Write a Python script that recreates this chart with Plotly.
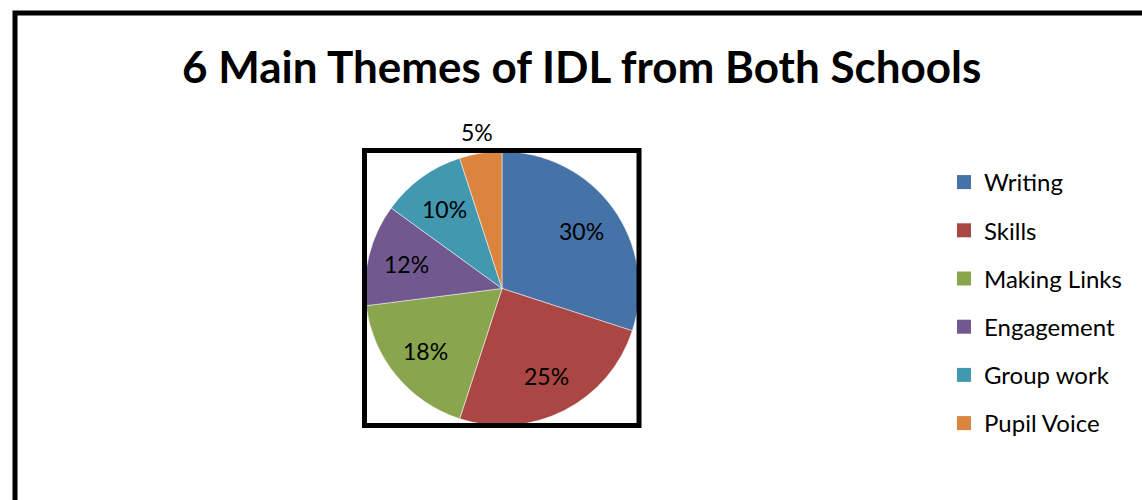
import math
import plotly.graph_objects as go

categories = ["Writing", "Skills", "Making Links", "Engagement", "Group work", "Pupil Voice"]
values = [30, 25, 18, 12, 10, 5]
colors = ["#4572A7", "#AA4643", "#89A54E", "#71588F", "#4198AF", "#DB843D"]
title_text = "6 Main Themes of IDL from Both Schools"

W, H = 1142, 500
FONT = "Lato"

# pie placement (pixels)
PX0, PX1, PY0, PY1 = 365, 639, 151, 426
CX, CY = (PX0 + PX1) / 2, (PY0 + PY1) / 2
R = (PX1 - PX0) / 2

fig = go.Figure()
fig.add_trace(go.Pie(
    labels=categories, values=values, sort=False, direction="clockwise", rotation=0,
    marker=dict(colors=colors, line=dict(color="white", width=0.5)),
    textinfo="none",
    showlegend=False, hoverinfo="label+percent",
    domain=dict(x=[PX0 / W, PX1 / W], y=[1 - PY1 / H, 1 - PY0 / H]),
))

for c, col in zip(categories, colors):
    fig.add_trace(go.Scatter(
        x=[None], y=[None], mode="markers", name=c, legendgroup=c,
        marker=dict(symbol="square", size=14, color=col),
    ))

# data labels placed at each slice's mid-angle (computed from the values)
total = sum(values)
annotations = []
cum = 0
for i, v in enumerate(values):
    mid = (cum + v / 2) / total * 2 * math.pi
    cum += v
    frac = 1.16 if v / total < 0.07 else 0.72
    x = CX + frac * R * math.sin(mid)
    y = CY - frac * R * math.cos(mid)
    annotations.append(dict(
        text=f"{round(100 * v / total)}%", x=x / W, y=1 - y / H,
        xref="paper", yref="paper", showarrow=False, xanchor="center", yanchor="middle",
        font=dict(family=FONT, size=23, color="black")))

annotations.append(dict(text="<b>" + title_text + "</b>", x=581 / W, y=1 - 66 / H,
                        xref="paper", yref="paper", showarrow=False,
                        xanchor="center", yanchor="middle",
                        font=dict(family=FONT, size=44, color="black")))

fig.update_layout(
    width=W, height=H, margin=dict(l=0, r=0, t=0, b=0),
    paper_bgcolor="white", plot_bgcolor="white",
    xaxis=dict(visible=False), yaxis=dict(visible=False),
    showlegend=True,
    legend=dict(x=944 / W, y=1 - 160 / H, xanchor="left", yanchor="top",
                font=dict(family=FONT, size=24, color="black"),
                tracegroupgap=14, itemwidth=30, bgcolor="rgba(0,0,0,0)"),
    annotations=annotations,
    shapes=[
        dict(type="rect", xref="paper", yref="paper", x0=364.5 / W, x1=639 / W,
             y0=1 - 425.5 / H, y1=1 - 150.5 / H, line=dict(color="black", width=5)),
        dict(type="rect", xref="paper", yref="paper", x0=15 / W, x1=1.05,
             y0=-0.05, y1=1 - 13 / H, line=dict(color="black", width=5)),
    ],
)

fig.write_html("out.html")
